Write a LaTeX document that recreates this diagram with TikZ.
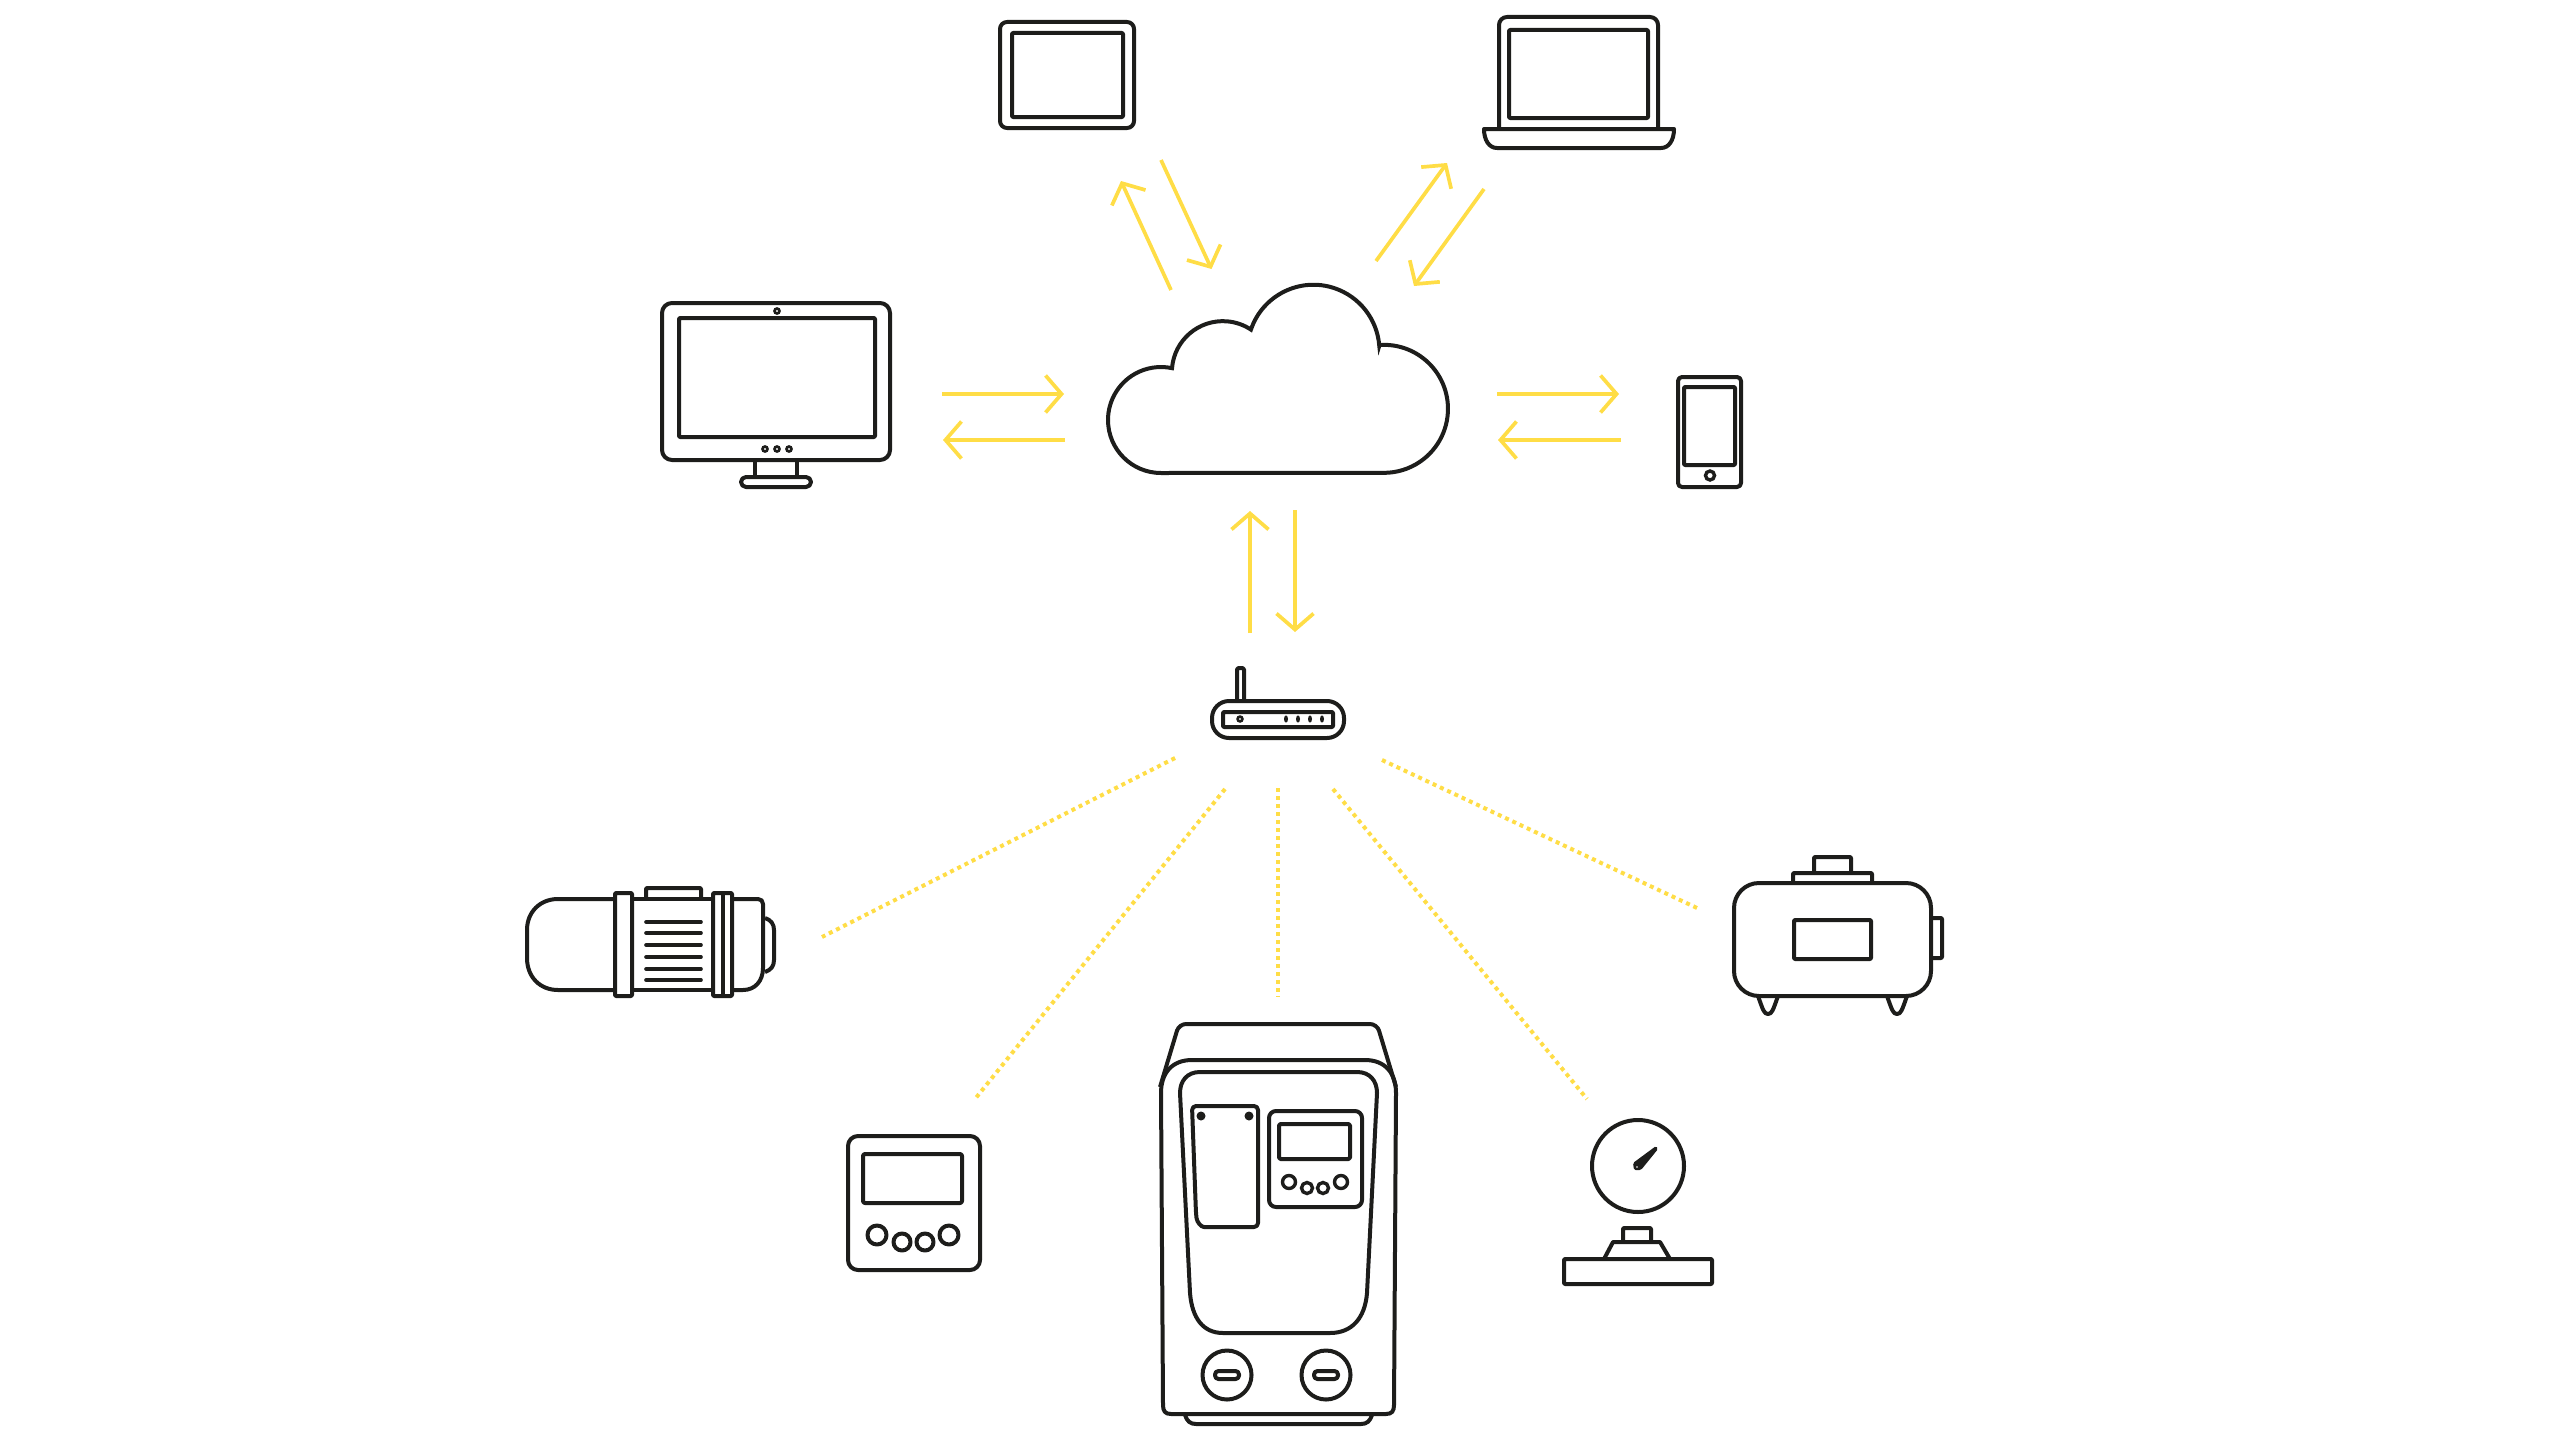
\documentclass[tikz,border=0pt]{standalone}
\usepackage{tikz}
\usetikzlibrary{arrows.meta}
\usepackage{xcolor}
\definecolor{dgink}{RGB}{29,29,27}
\definecolor{dgyellow}{RGB}{255,221,70}
\tikzstyle{icon} = [draw=dgink, line width=4pt, line join=round]
\tikzstyle{flow} = [draw=dgyellow, line width=3.7pt, -{Straight Barb[length=16pt,width=37pt]}]
\tikzstyle{fieldlink} = [draw=dgyellow, line width=4pt, dash pattern=on 4pt off 4pt]
\tikzstyle{pip} = [draw=dgink, line width=2.6pt]
\begin{document}
\begin{tikzpicture}[x=1pt, y=-1pt]
\useasboundingbox (0,0) rectangle (2569,1445);

% Cloud
\draw[icon, line join=miter] (1379.5,345) arc[start angle=-94, end angle=90, radius=64] -- (1161,473) arc[start angle=90, end angle=282, radius=53] arc[start angle=184.5, end angle=303.4, radius=51] arc[start angle=198.7, end angle=355.7, radius=66] -- cycle;

% Tablet
\draw[icon, rounded corners=7pt] (1000,22) rectangle (1134,128);
\draw[icon, rounded corners=1pt] (1012,33) rectangle (1123,117);

% Laptop
\draw[icon, rounded corners=8pt] (1499,128) -- (1499,17) -- (1658,17) -- (1658,128);
\draw[icon, rounded corners=1pt] (1509,30) rectangle (1648,118);
\draw[icon] (1484,129) -- (1674,129) .. controls (1674,140) and (1669,148) .. (1661,148) -- (1497,148) .. controls (1489,148) and (1484,140) .. (1484,129) -- cycle;

% Monitor
\draw[icon, rounded corners=10pt] (662,303) rectangle (890,460);
\draw[icon, rounded corners=1pt] (679,318) rectangle (875,437);
\draw[pip] (777,311) circle (2.5);
\draw[pip] (765,449) circle (2.5);
\draw[pip] (777,449) circle (2.5);
\draw[pip] (789,449) circle (2.5);
\draw[icon] (755,460) -- (755,478);
\draw[icon] (797,460) -- (797,478);
\draw[icon, rounded corners=5pt] (741,477) rectangle (811,487);

% Phone
\draw[icon, rounded corners=4pt] (1678,377) rectangle (1741,487);
\draw[icon, rounded corners=1pt] (1684,387) rectangle (1735,465);
\draw[line width=3.4pt, draw=dgink] (1710,475.5) circle (4.5);

% Router
\draw[icon, rounded corners=1.5pt] (1237,701) -- (1237,668) -- (1244,668) -- (1244,701);
\draw[icon, rounded corners=17pt] (1212,701) rectangle (1344,738);
\draw[icon, rounded corners=1pt] (1223,712) rectangle (1333,727);
\draw[pip] (1240,719) circle (2.4);
\fill[dgink] (1286,719) ellipse (2 and 3.6);
\fill[dgink] (1298,719) ellipse (2 and 3.6);
\fill[dgink] (1310,719) ellipse (2 and 3.6);
\fill[dgink] (1322,719) ellipse (2 and 3.6);

% Motor
\draw[icon] (615,899) -- (558,899) .. controls (540,899) and (527,912) .. (527,930) -- (527,958) .. controls (527,977) and (540,990) .. (558,990) -- (615,990);
\draw[icon, rounded corners=1pt] (615,893) rectangle (632,996);
\draw[icon, rounded corners=1pt] (646,899) -- (646,888) -- (701,888) -- (701,899);
\draw[icon] (632,899) -- (713,899);
\draw[icon] (632,990) -- (713,990);
\draw[icon, line cap=round, line width=3.6pt] (646,922) -- (701,922);
\draw[icon, line cap=round, line width=3.6pt] (646,933) -- (701,933);
\draw[icon, line cap=round, line width=3.6pt] (646,945) -- (701,945);
\draw[icon, line cap=round, line width=3.6pt] (646,957) -- (701,957);
\draw[icon, line cap=round, line width=3.6pt] (646,969) -- (701,969);
\draw[icon, line cap=round, line width=3.6pt] (646,980) -- (701,980);
\draw[icon, rounded corners=1pt] (713,893) rectangle (732,996);
\draw[icon] (723,893) -- (723,996);
\draw[icon] (732,899) -- (758,899) .. controls (761,899) and (763,901) .. (763,904) -- (763,968) .. controls (763,981) and (755,990) .. (743,990) -- (732,990);
\draw[icon] (765,918) .. controls (771,920) and (774,924) .. (774,930) -- (774,960) .. controls (774,966) and (771,970) .. (765,972);

% Wall panel
\draw[icon, rounded corners=10pt] (848,1136) rectangle (980,1270);
\draw[icon, rounded corners=2pt] (863,1154) rectangle (962,1203);
\draw[icon] (877,1235) circle (9.5);
\draw[icon] (902,1242) circle (8.5);
\draw[icon] (925,1242) circle (8.5);
\draw[icon] (949,1235) circle (9.5);

% Pump
\draw[icon, rounded corners=7pt] (1160,1087) -- (1179,1024) -- (1377,1024) -- (1396,1087);
\draw[icon] (1171,1414) -- (1386,1414) .. controls (1392,1414) and (1394,1411) .. (1394,1405) -- (1396,1093) .. controls (1396,1073) and (1385,1060) .. (1365,1060) -- (1192,1060) .. controls (1172,1060) and (1161,1073) .. (1161,1093) -- (1163,1405) .. controls (1163,1411) and (1165,1414) .. (1171,1414) -- cycle;
\draw[icon] (1185,1415) .. controls (1187,1421) and (1190,1424) .. (1196,1424) -- (1361,1424) .. controls (1367,1424) and (1370,1421) .. (1372,1415);
\draw[icon] (1200,1072) -- (1357,1072) .. controls (1370,1072) and (1377,1081) .. (1377,1093) -- (1367,1293) .. controls (1365,1318) and (1352,1333) .. (1330,1333) -- (1223,1333) .. controls (1203,1333) and (1192,1318) .. (1190,1293) -- (1180,1093) .. controls (1180,1081) and (1187,1072) .. (1200,1072) -- cycle;
\draw[icon, rounded corners=4pt] (1192,1106) -- (1258,1106) -- (1258,1227) -- (1208,1227) .. controls (1201,1227) and (1197,1222) .. (1196,1214) -- cycle;
\fill[dgink] (1201,1116) circle (4.5);
\fill[dgink] (1249,1116) circle (4.5);
\draw[icon, rounded corners=7pt] (1269,1111) rectangle (1362,1207);
\draw[icon, rounded corners=1.5pt] (1279,1124) rectangle (1350,1159);
\draw[pip, line width=3.4pt] (1289,1182) circle (6.5);
\draw[pip, line width=3.4pt] (1307,1188) circle (5.5);
\draw[pip, line width=3.4pt] (1323,1188) circle (5.5);
\draw[pip, line width=3.4pt] (1341,1182) circle (6.5);
\draw[icon] (1227,1375) circle (24.5);
\draw[icon] (1326,1375) circle (24.5);
\draw[icon, rounded corners=3.5pt] (1215,1371) rectangle (1239,1379);
\draw[icon, rounded corners=3.5pt] (1314,1371) rectangle (1338,1379);

% Pressure gauge
\draw[icon] (1638,1166) circle (46);
\fill[dgink, rounded corners=1.5pt] (1656,1146) -- (1658,1149) -- (1641,1170) -- (1634,1170) -- (1633,1163) -- cycle;
\fill[white] (1637,1167) circle (0.9);
\draw[icon, rounded corners=1pt] (1623,1241) -- (1623,1228) -- (1651,1228) -- (1651,1241);
\draw[icon] (1604,1259) -- (1613,1242) -- (1660,1242) -- (1670,1259);
\draw[icon, rounded corners=1pt] (1564,1259) rectangle (1712,1284);

% Tank
\draw[icon, rounded corners=25pt] (1734,883) rectangle (1931,996);
\draw[icon, rounded corners=1pt] (1793,883) -- (1793,873) -- (1872,873) -- (1872,883);
\draw[icon, rounded corners=1pt] (1814,873) -- (1814,857) -- (1851,857) -- (1851,873);
\draw[icon, rounded corners=1pt] (1794,920) rectangle (1871,959);
\draw[icon, rounded corners=1pt] (1931,918) -- (1942,918) -- (1942,958) -- (1931,958);
\draw[icon] (1758,996) .. controls (1763,1010) and (1764,1014) .. (1768,1014) .. controls (1772,1014) and (1773,1010) .. (1778,996);
\draw[icon] (1887,996) .. controls (1892,1010) and (1893,1014) .. (1897,1014) .. controls (1901,1014) and (1902,1010) .. (1907,996);

% Arrow ends
\coordinate (tabletoutA) at (1171,290);
\coordinate (tabletoutB) at (1121,181);
\coordinate (tabletinA) at (1161,160);
\coordinate (tabletinB) at (1211.5,269);
\coordinate (laptopoutA) at (1376,261);
\coordinate (laptopoutB) at (1447,163);
\coordinate (laptopinA) at (1484,189);
\coordinate (laptopinB) at (1414,286);
\coordinate (monitorinA) at (942,394);
\coordinate (monitorinB) at (1064,394);
\coordinate (monitoroutA) at (1065,440);
\coordinate (monitoroutB) at (943,440);
\coordinate (phoneoutA) at (1497,394);
\coordinate (phoneoutB) at (1619,394);
\coordinate (phoneinA) at (1621,440);
\coordinate (phoneinB) at (1498,440);
\coordinate (routerupA) at (1250,633);
\coordinate (routerupB) at (1250,511);
\coordinate (routerdownA) at (1295,510);
\coordinate (routerdownB) at (1295,632);

% Connections
\draw[flow] (tabletoutA) -- (tabletoutB);
\draw[flow] (tabletinA) -- (tabletinB);
\draw[flow] (laptopoutA) -- (laptopoutB);
\draw[flow] (laptopinA) -- (laptopinB);
\draw[flow] (monitorinA) -- (monitorinB);
\draw[flow] (monitoroutA) -- (monitoroutB);
\draw[flow] (phoneoutA) -- (phoneoutB);
\draw[flow] (phoneinA) -- (phoneinB);
\draw[flow] (routerupA) -- (routerupB);
\draw[flow] (routerdownA) -- (routerdownB);

% Field ends
\coordinate (motorA) at (1175,758);
\coordinate (motorB) at (822,937);
\coordinate (panelA) at (1225,789);
\coordinate (panelB) at (975,1099);
\coordinate (pumpA) at (1278,788);
\coordinate (pumpB) at (1278,997);
\coordinate (gaugeA) at (1333,789);
\coordinate (gaugeB) at (1587,1099);
\coordinate (tankA) at (1382,760);
\coordinate (tankB) at (1697,908);

% Connect to field devices
\draw[fieldlink] (motorA) -- (motorB);
\draw[fieldlink] (panelA) -- (panelB);
\draw[fieldlink] (pumpA) -- (pumpB);
\draw[fieldlink] (gaugeA) -- (gaugeB);
\draw[fieldlink] (tankA) -- (tankB);
\end{tikzpicture}
\end{document}
